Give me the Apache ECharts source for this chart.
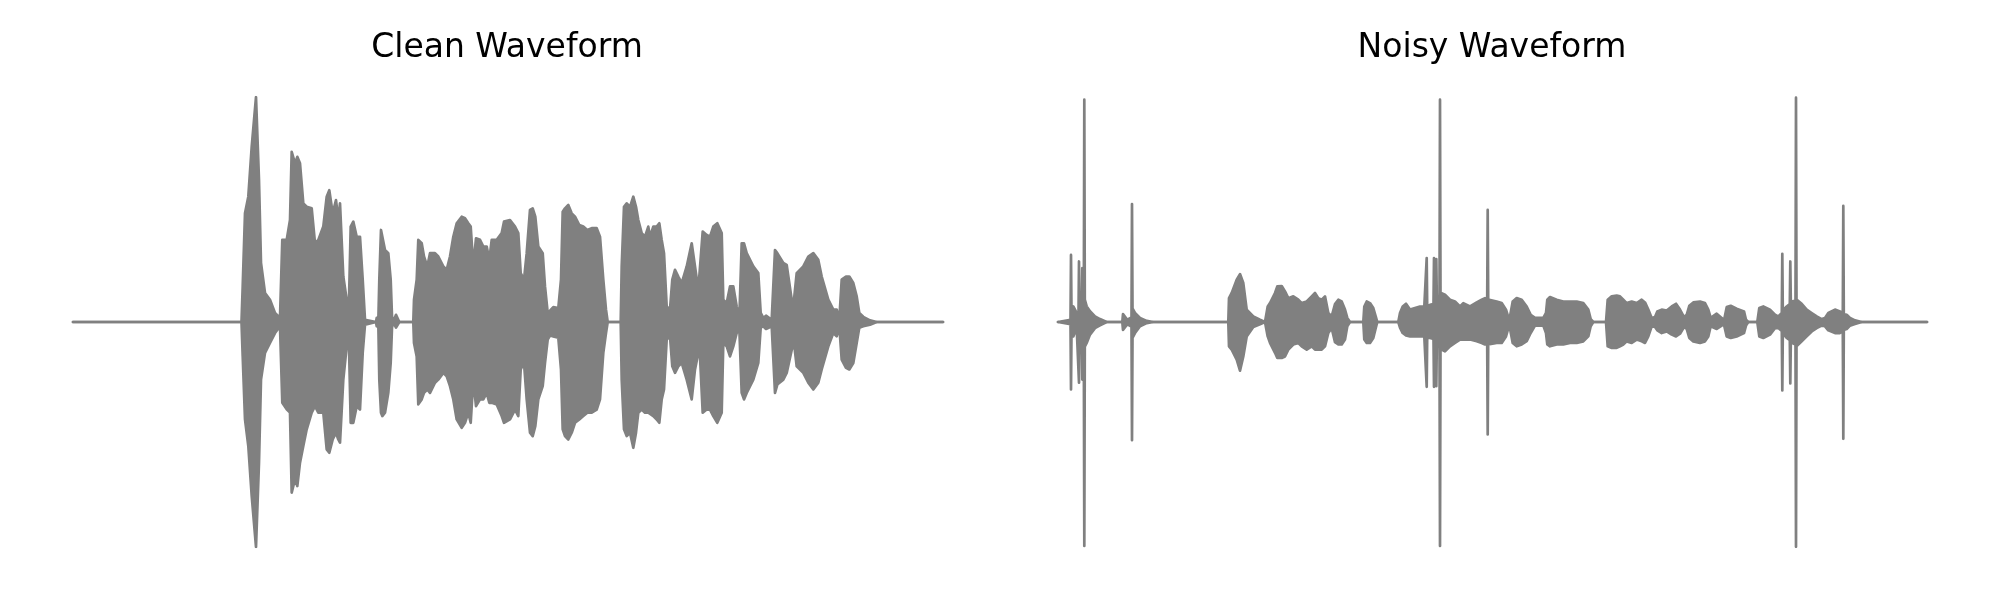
<!DOCTYPE html>
<html>
<head>
<meta charset="utf-8">
<script src="https://cdn.jsdelivr.net/npm/echarts@6/dist/echarts.min.js"></script>
<style>
  html, body { margin: 0; padding: 0; background: #ffffff; }
  #chart { width: 2000px; height: 600px; }
</style>
</head>
<body>
<div id="chart"></div>
<script>
// ---- Data: per-frame waveform envelope (amplitude normalised to peak = 1) ----
const panelTitles = ['Clean Waveform', 'Noisy Waveform'];

const cleanFrame = [0,168.5,169.7,172,175.3,178.7,183,186,188,192,197,202,207,208.8,209.3,213.7,217,218.7,222,224.3,227,230.3,233.7,238.7,242,245.3,250.3,253.7,256.3,259.7,263,265.3,267,270.3,273.7,275.7,277.7,280.3,283.7,287,289.7,292,303,303.7,305.3,306.3,308,309.3,312,315.3,317.7,319,320.3,323,326.3,340.3,341,343.7,345.3,348.7,351,354.3,357,362,365.3,370.3,373.7,377,380.3,383.7,388.7,392,395.3,397.7,400.3,403,407,410.3,413.7,416.3,418.7,423.7,428.7,431,437,442,445.3,447.7,451,453.7,457,459.7,462.3,465.3,469.7,472,474.7,477,480.3,485.3,488,489.7,492,495.3,498.7,502,506.3,510.3,514.3,518.7,523.7,527,530.3,533,534.7,547.7,548.7,551,553.7,557,560.3,563,565.3,568.7,572,575.3,577,580.3,583.7,586.3,588.7,591,593.7,597,599.3,602,605.3,608.7,613.7,618.7,622,625.3,627,629.7,633.7,637,640.3,644.3,648.7,650.3,653.7,657,660.3,663.7,666.3,668.7,671,673.7,680.3,685.3,687.7,690.3,693,698.7,702,704.3,710.3,713.7,718.7,721,723.7,730.3,735.3,740.3,745.3,748.7,755.3,760.3,763.7,766.3,768.7,773,776.3,780.3,783.7,786.3,790.3,797,803.7,870];
const cleanUpper = [0,0,0.158,0.483,0.557,0.778,1.0,0.631,0.262,0.129,0.099,0.040,0.018,0.02,0.365,0.365,0.453,0.756,0.705,0.734,0.705,0.527,0.512,0.505,0.350,0.365,0.424,0.557,0.586,0.483,0.542,0.453,0.527,0.202,0.099,0.040,0.424,0.446,0.379,0.379,0.188,0.010,0,0.018,0,0.188,0.409,0.417,0.320,0.306,0.188,0.025,0,0.032,0,0,0.099,0.188,0.365,0.350,0.291,0.247,0.306,0.306,0.291,0.247,0.232,0.291,0.379,0.439,0.468,0.461,0.439,0.424,0.247,0.372,0.365,0.335,0.335,0.276,0.365,0.365,0.395,0.446,0.453,0.424,0.395,0.217,0.188,0.306,0.498,0.505,0.468,0.335,0.306,0.158,0.040,0.050,0.066,0.062,0.188,0.490,0.505,0.520,0.483,0.468,0.431,0.424,0.409,0.417,0.417,0.379,0.188,0.055,0,0,0.247,0.512,0.527,0.512,0.557,0.512,0.453,0.395,0.379,0.424,0.379,0.424,0.424,0.439,0.365,0.306,0.069,0.055,0.188,0.232,0.202,0.173,0.247,0.350,0.247,0.143,0.143,0.402,0.387,0.379,0.424,0.439,0.395,0.099,0.084,0.158,0.158,0.069,0.010,0.350,0.350,0.306,0.247,0.217,0.040,0.018,0.028,0.010,0.320,0.306,0.262,0.254,0.099,0.099,0.217,0.247,0.291,0.306,0.276,0.202,0.099,0.055,0.055,0.010,0.188,0.202,0.202,0.173,0.114,0.040,0.023,0.007,0,0];
const cleanLower = [0,0,-0.152,-0.433,-0.551,-0.773,-1.0,-0.625,-0.256,-0.137,-0.093,-0.049,-0.019,-0.02,-0.359,-0.388,-0.403,-0.758,-0.699,-0.729,-0.625,-0.551,-0.477,-0.403,-0.374,-0.403,-0.403,-0.566,-0.581,-0.522,-0.492,-0.522,-0.536,-0.256,-0.108,-0.049,-0.448,-0.448,-0.374,-0.389,-0.137,-0.012,0,-0.019,0,-0.256,-0.403,-0.418,-0.403,-0.315,-0.182,-0.025,0,-0.025,0,0,-0.093,-0.153,-0.366,-0.344,-0.315,-0.300,-0.315,-0.270,-0.256,-0.226,-0.241,-0.285,-0.344,-0.433,-0.470,-0.448,-0.403,-0.448,-0.256,-0.374,-0.344,-0.344,-0.315,-0.359,-0.359,-0.366,-0.418,-0.448,-0.433,-0.389,-0.418,-0.211,-0.182,-0.344,-0.492,-0.507,-0.463,-0.344,-0.285,-0.182,-0.078,-0.060,-0.064,-0.070,-0.211,-0.477,-0.507,-0.522,-0.492,-0.448,-0.433,-0.418,-0.403,-0.403,-0.389,-0.344,-0.137,-0.049,0,0,-0.256,-0.477,-0.507,-0.492,-0.559,-0.492,-0.403,-0.389,-0.403,-0.403,-0.403,-0.418,-0.433,-0.448,-0.344,-0.300,-0.078,-0.064,-0.197,-0.226,-0.197,-0.182,-0.256,-0.344,-0.211,-0.137,-0.153,-0.403,-0.389,-0.389,-0.418,-0.448,-0.403,-0.093,-0.108,-0.153,-0.108,-0.049,-0.027,-0.315,-0.344,-0.315,-0.256,-0.182,-0.025,-0.019,-0.031,-0.019,-0.315,-0.278,-0.256,-0.226,-0.124,-0.093,-0.197,-0.226,-0.270,-0.300,-0.270,-0.211,-0.108,-0.049,-0.064,-0.019,-0.167,-0.204,-0.211,-0.182,-0.093,-0.025,-0.019,-0.012,0,0];

const noisyFrame = [0,12.5,13,13.5,15.3,17,18.7,20.5,21,21.5,23.8,24.3,24.8,25.8,26.3,26.8,28.7,32,37,42,48.7,64.3,65,69.3,73.5,74,74.5,77,82,88.7,95.3,170.3,171,173.7,178.7,182,185.3,188.7,195.3,202,207,209.7,212,217,219.3,223.7,227,230.3,235.3,240.3,243.7,248.7,253.7,257,260.3,263.7,267,270.3,273.7,277,280.3,283.7,287,289.3,292,305.3,306.3,308.7,312,315.3,317.7,319.3,340.3,342,344.7,348,352,357,362,366.3,368.2,368.7,369.2,372,375.5,376,376.5,377.8,378.3,378.8,381.5,382,382.5,383.7,387,392,397,402,405.3,412,418.7,423.7,427,429.2,429.7,430.2,432,438.7,443.7,448,451.3,454.7,458.7,463.7,468.7,472.7,477,485.3,488,489.3,492,498.7,505.3,512,518.7,525.3,530.3,532.7,535.3,548,549.7,553.7,558.7,562,565.3,568.7,573.7,578.7,583.7,587,590.3,593.7,597,599.3,603.7,608.7,613.7,618,622,626,628.7,631.3,635.3,642,647,650.3,652.7,658.7,663.7,666,668.7,672.7,678.7,686,688,690.3,699.3,701.3,705.3,712,717,720.3,723.8,724.3,724.8,728.7,731.8,732.3,732.8,734.7,737.5,738,738.5,740.3,743.7,748.7,753.7,758.7,763.7,767,770.3,777,782,784.8,785.3,785.8,788.7,792,797,803.7,869];
const noisyUpper = [0,0.01,0.298,0.04,0.069,0.055,0.040,0.03,0.269,0.05,0.06,0.239,0.07,0.08,0.988,0.10,0.069,0.048,0.025,0.013,0,0,0.035,0.010,0.02,0.524,0.06,0.040,0.018,0.005,0,0,0.106,0.129,0.188,0.213,0.173,0.055,0.025,0.010,0,0.069,0.084,0.129,0.158,0.160,0.136,0.106,0.114,0.099,0.084,0.091,0.114,0.129,0.106,0.099,0.114,0.040,0.025,0.08,0.099,0.091,0.055,0.018,0,0,0.069,0.091,0.084,0.062,0.025,0,0,0.040,0.069,0.081,0.055,0.062,0.069,0.069,0.07,0.284,0.07,0.076,0.08,0.284,0.08,0.09,0.28,0.10,0.12,0.988,0.13,0.129,0.121,0.099,0.091,0.069,0.084,0.069,0.087,0.099,0.106,0.10,0.498,0.10,0.099,0.091,0.084,0.055,0.007,0.091,0.106,0.099,0.069,0.032,0.018,0.018,0.040,0.099,0.111,0.099,0.091,0.091,0.091,0.084,0.055,0.013,0,0,0.099,0.114,0.117,0.114,0.099,0.084,0.091,0.084,0.099,0.087,0.055,0.018,0.022,0.047,0.055,0.051,0.069,0.081,0.055,0.022,0.032,0.072,0.087,0.091,0.084,0.055,0.018,0.037,0.018,0.007,0.066,0.072,0.059,0.047,0.010,0,0,0.062,0.069,0.055,0.032,0.025,0.04,0.303,0.05,0.069,0.08,0.269,0.09,0.091,0.095,0.997,0.10,0.096,0.081,0.055,0.040,0.025,0.013,0.018,0.040,0.055,0.047,0.04,0.516,0.035,0.032,0.018,0.007,0,0];
const noisyLower = [0,-0.01,-0.300,-0.04,-0.064,-0.064,-0.025,-0.03,-0.270,-0.05,-0.06,-0.256,-0.07,-0.08,-0.995,-0.11,-0.093,-0.056,-0.027,-0.015,0,0,-0.035,-0.010,-0.02,-0.525,-0.07,-0.049,-0.019,-0.005,0,0,-0.108,-0.123,-0.167,-0.216,-0.153,-0.064,-0.022,-0.010,0,-0.064,-0.093,-0.137,-0.160,-0.160,-0.153,-0.123,-0.100,-0.093,-0.108,-0.123,-0.108,-0.123,-0.123,-0.123,-0.108,-0.049,-0.027,-0.09,-0.100,-0.100,-0.078,-0.019,0,0,-0.078,-0.093,-0.093,-0.071,-0.027,0,0,-0.025,-0.049,-0.060,-0.064,-0.064,-0.064,-0.064,-0.065,-0.288,-0.07,-0.071,-0.075,-0.288,-0.08,-0.09,-0.285,-0.10,-0.11,-0.995,-0.12,-0.123,-0.130,-0.108,-0.093,-0.078,-0.078,-0.078,-0.085,-0.093,-0.100,-0.10,-0.500,-0.10,-0.100,-0.093,-0.093,-0.064,-0.012,-0.093,-0.108,-0.100,-0.085,-0.049,-0.016,-0.016,-0.049,-0.100,-0.108,-0.100,-0.100,-0.093,-0.093,-0.086,-0.064,-0.019,0,0,-0.108,-0.115,-0.115,-0.108,-0.100,-0.086,-0.093,-0.078,-0.086,-0.093,-0.064,-0.019,-0.022,-0.037,-0.049,-0.042,-0.056,-0.064,-0.052,-0.022,-0.031,-0.071,-0.086,-0.093,-0.086,-0.064,-0.019,-0.031,-0.016,-0.012,-0.064,-0.071,-0.064,-0.049,-0.016,0,0,-0.064,-0.071,-0.056,-0.027,-0.027,-0.04,-0.304,-0.05,-0.071,-0.08,-0.273,-0.09,-0.093,-0.10,-0.999,-0.108,-0.108,-0.086,-0.064,-0.042,-0.027,-0.016,-0.019,-0.037,-0.049,-0.049,-0.04,-0.519,-0.035,-0.031,-0.016,-0.009,0,0];

// ---- Build option ----
const GRAY = '#808080';
function pairs(xs, ys) { return xs.map((x, i) => [x, ys[i]]); }
function envSeries(idx, data) {
  return {
    type: 'line', xAxisIndex: idx, yAxisIndex: idx, data: data,
    showSymbol: false, symbol: 'none', smooth: false, sampling: null,
    lineStyle: { color: GRAY, width: 2.7, cap: 'round', join: 'round' },
    areaStyle: { color: GRAY, opacity: 1, origin: 0 },
    silent: true, z: 2
  };
}

const titleStyle = { fontFamily: 'DejaVu Sans', fontSize: 33, fontWeight: 'normal', color: '#000' };
const gridTop = 97, gridHeight = 450;
const option = {
  animation: false,
  backgroundColor: '#ffffff',
  title: [
    { text: panelTitles[0], left: 502, top: 27, textAlign: 'center', textStyle: titleStyle },
    { text: panelTitles[1], left: 1487, top: 27, textAlign: 'center', textStyle: titleStyle }
  ],
  grid: [
    { left: 73, top: gridTop, width: 870, height: gridHeight },
    { left: 1058, top: gridTop, width: 869, height: gridHeight }
  ],
  xAxis: [
    { type: 'value', gridIndex: 0, min: 0, max: 870, show: false, splitLine: { show: false } },
    { type: 'value', gridIndex: 1, min: 0, max: 869, show: false, splitLine: { show: false } }
  ],
  yAxis: [
    { type: 'value', gridIndex: 0, min: -1, max: 1, show: false, splitLine: { show: false } },
    { type: 'value', gridIndex: 1, min: -1, max: 1, show: false, splitLine: { show: false } }
  ],
  series: [
    envSeries(0, pairs(cleanFrame, cleanUpper)),
    envSeries(0, pairs(cleanFrame, cleanLower)),
    envSeries(1, pairs(noisyFrame, noisyUpper)),
    envSeries(1, pairs(noisyFrame, noisyLower))
  ]
};

const chart = echarts.init(document.getElementById('chart'), null, { renderer: 'canvas' });
chart.setOption(option);
</script>
</body>
</html>
